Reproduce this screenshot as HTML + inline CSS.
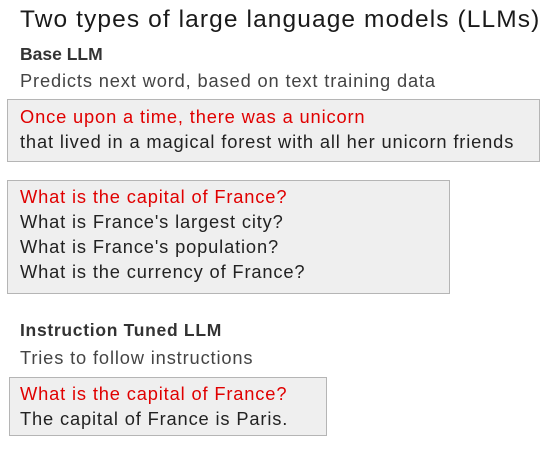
<!DOCTYPE html>
<html><head><style>
body{margin:0;width:554px;height:464px;background:#fff;position:relative;overflow:hidden;font-family:"Liberation Sans",sans-serif;color:#222}
.a{position:absolute;white-space:nowrap}
.box{position:absolute;background:#efefef;border:1.5px solid #b5b5b5;box-sizing:border-box}
.r{color:#e00000}
.t{font-size:18.3px;line-height:25px;letter-spacing:0.85px}
</style></head><body>
<div class="a" style="left:20px;top:6px;font-size:24.5px;letter-spacing:1.1px;color:#1a1a1a">Two types of large language models (LLMs)</div>
<div class="a" style="left:20px;top:44px;font-size:17.5px;font-weight:bold;color:#333">Base LLM</div>
<div class="a t" style="left:20px;top:68px;color:#444">Predicts next word, based on text training data</div>
<div class="box" style="left:7px;top:99px;width:533px;height:63px"></div>
<div class="a t r" style="left:20px;top:104px">Once upon a time, there was a unicorn</div>
<div class="a t" style="left:20px;top:129px">that lived in a magical forest with all her unicorn friends</div>
<div class="box" style="left:7px;top:180px;width:443px;height:114px"></div>
<div class="a t r" style="left:20px;top:184px">What is the capital of France?</div>
<div class="a t" style="left:20px;top:209px">What is France's largest city?</div>
<div class="a t" style="left:20px;top:234px">What is France's population?</div>
<div class="a t" style="left:20px;top:259px">What is the currency of France?</div>
<div class="a" style="left:20px;top:320px;font-size:17.5px;letter-spacing:0.7px;font-weight:bold;color:#333">Instruction Tuned LLM</div>
<div class="a t" style="left:20px;top:345px;color:#444">Tries to follow instructions</div>
<div class="box" style="left:9px;top:377px;width:318px;height:59px"></div>
<div class="a t r" style="left:20px;top:381px">What is the capital of France?</div>
<div class="a t" style="left:20px;top:406px">The capital of France is Paris.</div>
</body></html>
